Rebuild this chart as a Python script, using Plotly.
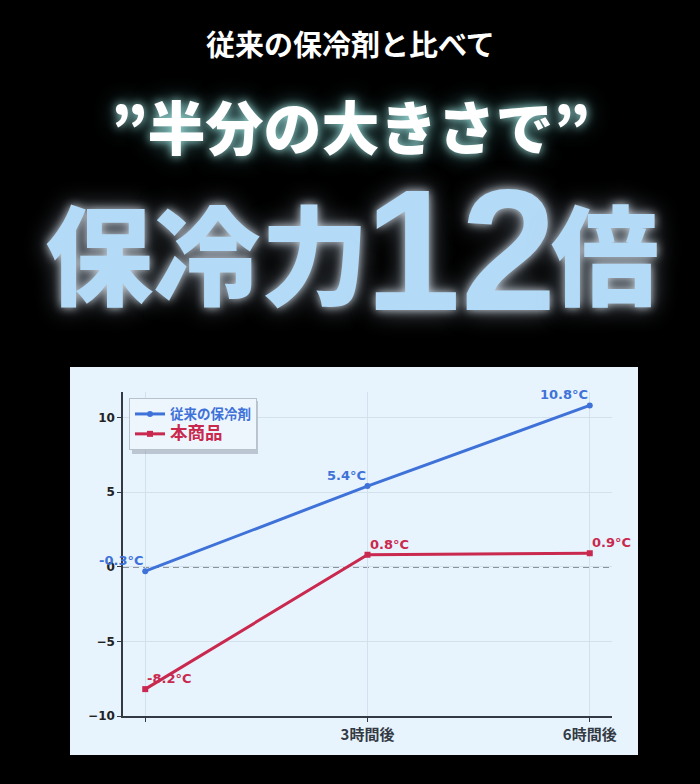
import plotly.graph_objects as go

# ---- data ----
categories = ["", "3時間後", "6時間後"]
x_pos = [0, 1, 2]
series_names = ["従来の保冷剤", "本商品"]
conventional = [-0.3, 5.4, 10.8]
product = [-8.2, 0.8, 0.9]
y_ticks = [-10, -5, 0, 5, 10]
y_tick_labels = ["−10", "−5", "0", "5", "10"]
header_line1 = "従来の保冷剤と比べて"
header_line2 = "”半分の大きさで”"
header_big = ["保冷力", "12", "倍"]

BLUE = "#3f72d9"
RED = "#c9294f"
PANEL = "#e8f4fd"
JP = "Noto Sans CJK JP"

W, H = 700, 784
ML, MR, MT, MB = 123, 88, 392, 68
PW, PH = W - ML - MR, H - MT - MB


def px_x(X):
    return (X - ML) / PW


def px_y(Y):
    return (H - MB - Y) / PH


fig = go.Figure()

fig.add_trace(go.Scatter(
    x=x_pos, y=conventional, mode="lines+markers",
    name=f"<span style='color:{BLUE};font-size:13.5px'>{series_names[0]}</span>",
    line=dict(color=BLUE, width=3), marker=dict(symbol="circle", size=6, color=BLUE),
))
fig.add_trace(go.Scatter(
    x=x_pos, y=product, mode="lines+markers",
    name=f"<span style='color:{RED};font-size:17.5px'>{series_names[1]}</span>",
    line=dict(color=RED, width=3), marker=dict(symbol="square", size=6, color=RED),
))

annotations = []
for xv, yv in zip(x_pos, conventional):
    annotations.append(dict(x=xv, y=yv, xref="x", yref="y", text=f"{yv}°C",
                            showarrow=False, xanchor="right", yanchor="bottom", yshift=1,
                            font=dict(family="DejaVu Sans", size=13, color=BLUE, weight="bold")))
for xv, yv in zip(x_pos, product):
    annotations.append(dict(x=xv, y=yv, xref="x", yref="y", text=f"{yv}°C",
                            showarrow=False, xanchor="left", yanchor="bottom", yshift=1,
                            font=dict(family="DejaVu Sans", size=13, color=RED, weight="bold")))

# header texts
annotations.append(dict(x=px_x(350), y=px_y(43), xref="paper", yref="paper", text=header_line1,
                        showarrow=False, xanchor="center", yanchor="middle",
                        font=dict(family=JP, size=29, color="white", weight="bold")))
annotations.append(dict(x=px_x(350), y=px_y(125), xref="paper", yref="paper", text=header_line2,
                        showarrow=False, xanchor="center", yanchor="middle",
                        font=dict(family=JP, size=58, color="white", weight=900,
                                  shadow="0px 0px 10px rgba(170,240,235,0.9), 0px 0px 22px rgba(120,210,210,0.6)")))
big_x = [207, 460, 605]
big_fonts = [(JP, 108, 900), ("Liberation Sans", 172, "bold"), (JP, 108, 900)]
for txt, bx, (fam, sz, wt) in zip(header_big, big_x, big_fonts):
    annotations.append(dict(x=px_x(bx), y=px_y(250), xref="paper", yref="paper", text=txt,
                            showarrow=False, xanchor="center", yanchor="middle",
                            font=dict(family=fam, size=sz, color="#b3daf6", weight=wt,
                                      shadow="0px 0px 10px rgba(230,240,250,0.85), 0px 0px 24px rgba(200,220,240,0.5)")))

shapes = [
    dict(type="rect", xref="paper", yref="paper", x0=px_x(70), x1=px_x(638), y0=px_y(755), y1=px_y(367),
         fillcolor=PANEL, line=dict(width=0), layer="below"),
    dict(type="rect", xref="paper", yref="paper", x0=px_x(132), x1=px_x(258), y0=px_y(454), y1=px_y(401),
         fillcolor="rgba(120,130,145,0.4)", line=dict(width=0), layer="above"),
    dict(type="line", xref="paper", yref="y", x0=0, x1=1, y0=0, y1=0,
         line=dict(color="#2e343c", width=1.6, dash="6px,4px"), layer="between"),
]

fig.update_layout(
    width=W, height=H, autosize=False,
    margin=dict(l=ML, r=MR, t=MT, b=MB),
    paper_bgcolor="black", plot_bgcolor=PANEL,
    showlegend=True,
    legend=dict(x=px_x(129), y=px_y(398), xanchor="left", yanchor="top",
                bgcolor="#eef6fd", bordercolor="#b8c2cc", borderwidth=1,
                font=dict(family=JP, size=13, weight="bold"), tracegroupgap=0, itemwidth=30),
    annotations=annotations, shapes=shapes,
    xaxis=dict(range=[-0.1, 2.1], tickvals=x_pos, ticktext=categories, showline=True,
               linecolor="#333a44", linewidth=1.5, ticks="outside", ticklen=4, tickcolor="#333a44",
               showgrid=True, gridcolor="#d3e1ec", gridwidth=1, zeroline=False,
               tickfont=dict(family=JP, size=15, color="#333a44", weight="bold")),
    yaxis=dict(range=[-10, 11.7], tickvals=y_ticks, ticktext=y_tick_labels, showline=True,
               linecolor="#333a44", linewidth=1.5, ticks="outside", ticklen=4, tickcolor="#333a44",
               showgrid=True, gridcolor="#d3e1ec", gridwidth=1, zeroline=False,
               tickfont=dict(family="DejaVu Sans", size=12, color="#222", weight="bold")),
)

fig.write_html("out.html", config={"displayModeBar": False},
               post_script="document.body.style.margin='0';document.body.style.background='black';")
